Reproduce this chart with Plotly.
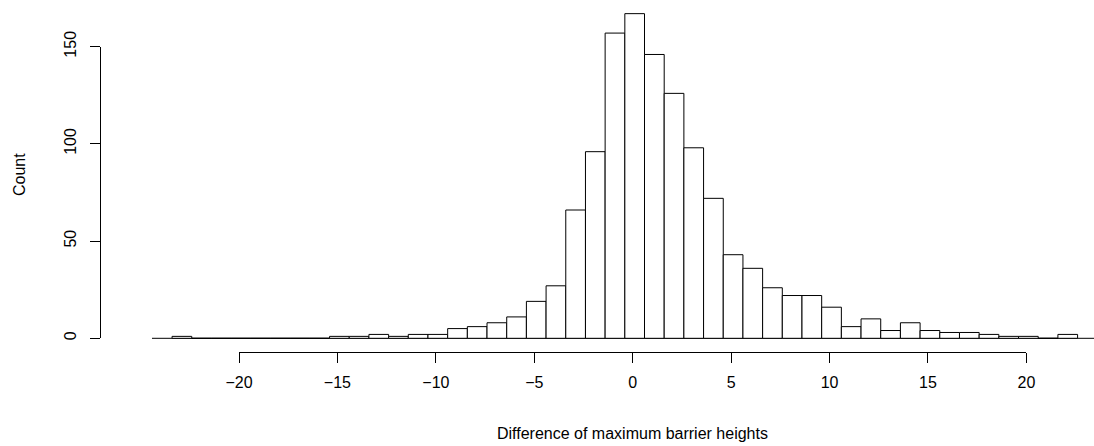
import plotly.graph_objects as go

# ---- data ----
bin_left = [-23.4, -22.4, -21.4, -20.4, -19.4, -18.4, -17.4, -16.4, -15.4, -14.4,
            -13.4, -12.4, -11.4, -10.4, -9.4, -8.4, -7.4, -6.4, -5.4, -4.4,
            -3.4, -2.4, -1.4, -0.4, 0.6, 1.6, 2.6, 3.6, 4.6, 5.6,
            6.6, 7.6, 8.6, 9.6, 10.6, 11.6, 12.6, 13.6, 14.6, 15.6,
            16.6, 17.6, 18.6, 19.6, 20.6, 21.6]
counts = [1, 0, 0, 0, 0, 0, 0, 0, 1, 1,
          2, 1, 2, 2, 5, 6, 8, 11, 19, 27,
          66, 96, 157, 167, 146, 126, 98, 72, 43, 36,
          26, 22, 22, 16, 6, 10, 4, 8, 4, 3,
          3, 2, 1, 1, 0, 2]
bin_width = 1.0
x_ticks = [-20, -15, -10, -5, 0, 5, 10, 15, 20]
y_ticks = [0, 50, 100, 150]
x_title = "Difference of maximum barrier heights"
y_title = "Count"

# ---- geometry (pixels) ----
W, H = 1094, 446
x0_px, x_scale = 632.7, 19.685      # pixel of x=0, px per unit
y0_px, y_scale = 338.3, 1.944       # pixel (from top) of y=0, px per count

def px_x(v):
    return x0_px + x_scale * v

def py_y(v):
    return y0_px - y_scale * v

centers = [l + bin_width / 2 for l in bin_left]
FONT = "Liberation Sans, Arial, Helvetica, sans-serif"

fig = go.Figure()
fig.add_trace(go.Bar(
    x=centers, y=counts, width=bin_width,
    marker=dict(color="white", line=dict(color="black", width=1)),
    hoverinfo="x+y", showlegend=False,
))
# anchor trace for the visible R-style axes
fig.add_trace(go.Scatter(x=[0], y=[0], xaxis="x2", yaxis="y2", mode="markers",
                         marker=dict(opacity=0), hoverinfo="skip", showlegend=False))

xmin = -x0_px / x_scale
xmax = (W - x0_px) / x_scale
ymax = y0_px / y_scale
ymin = -(H - y0_px) / y_scale

axis_common = dict(showgrid=False, zeroline=False, ticks="outside", ticklen=10,
                   tickwidth=1, tickcolor="black", showline=True, linecolor="black",
                   linewidth=1, automargin=False,
                   tickfont=dict(family=FONT, size=16, color="black"))

fig.update_layout(
    template="none",
    width=W, height=H, autosize=False,
    margin=dict(l=0, r=0, t=0, b=0, pad=0),
    paper_bgcolor="white", plot_bgcolor="rgba(0,0,0,0)",
    showlegend=False,
    xaxis=dict(domain=[0, 1], range=[xmin, xmax], visible=False, fixedrange=True,
               automargin=False),
    yaxis=dict(domain=[0, 1], range=[ymin, ymax], visible=False, fixedrange=True,
               automargin=False),
    xaxis2=dict(domain=[px_x(-20) / W, px_x(20) / W], range=[-20, 20],
                anchor="free", position=(H - 352) / H,
                tickmode="array", tickvals=x_ticks, ticklabelstandoff=6,
                **axis_common),
    yaxis2=dict(domain=[(H - py_y(0)) / H, (H - py_y(150)) / H], range=[0, 150],
                anchor="free", position=100 / W,
                tickmode="array", tickvals=y_ticks, tickangle=-90, ticklabelstandoff=8,
                **axis_common),
    shapes=[dict(type="line", xref="x", yref="y", x0=-24.42, x1=xmax + 1, y0=0, y1=0,
                 line=dict(color="black", width=1), layer="below")],
    annotations=[
        dict(text=x_title, xref="paper", yref="paper", x=632.7 / W, y=(H - 433) / H,
             showarrow=False, font=dict(family=FONT, size=16, color="black"),
             xanchor="center", yanchor="middle"),
        dict(text=y_title, xref="paper", yref="paper", x=19 / W, y=(H - 175) / H,
             showarrow=False, textangle=-90, font=dict(family=FONT, size=16, color="black"),
             xanchor="center", yanchor="middle"),
    ],
)

fig.write_html("out.html", config={"displayModeBar": False})
